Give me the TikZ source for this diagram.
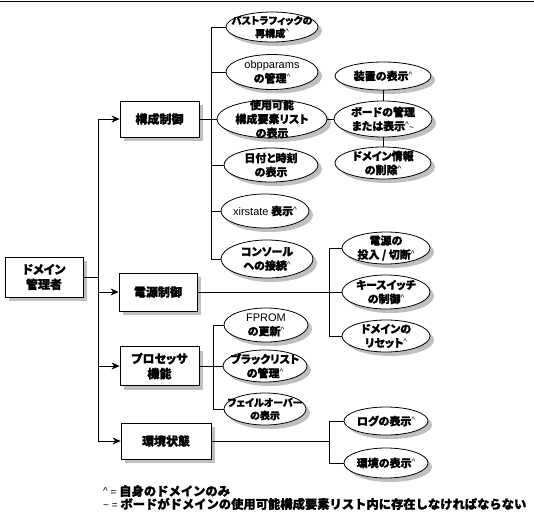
\documentclass[tikz,border=0pt]{standalone}
\usepackage{fontspec}
\newfontfamily\jpf{Noto Sans CJK JP}[RawFeature=+palt,BoldFeatures={FakeBold=1.2}]
\newfontfamily\jpl{Noto Sans CJK JP}[BoldFeatures={FakeBold=1.2}]
\newfontfamily\lsans{Liberation Sans}
\usetikzlibrary{shapes.geometric,shadows,arrows.meta}
\newcommand{\crt}{\raisebox{2.5pt}{\lsans\mdseries\fontsize{8}{8}\selectfont\textasciicircum}}
\newcommand{\tld}{{\lsans\mdseries\fontsize{9}{9}\selectfont\textasciitilde}}
\newcommand{\lat}[1]{{\lsans\mdseries #1}}
\tikzset{
 ln/.style={line width=0.8pt},
 arr/.style={ln,-{Stealth[length=8pt,width=7pt,inset=2.5pt]}},
 shd/.style={drop shadow={shadow xshift=4pt,shadow yshift=-4pt,fill=black!25,opacity=1}},
 bx/.style={draw,ln,fill=white,shd,inner sep=0pt,align=center,font=\jpf\bfseries\fontsize{12}{15}\selectfont},
 el/.style={ellipse,draw,ln,fill=white,shd,inner sep=0pt},
 et/.style={inner sep=0pt,align=center,font=\jpf\bfseries\fontsize{11}{14}\selectfont},
 etsmall/.style={font=\jpf\bfseries\fontsize{10}{13}\selectfont},
 lg/.style={inner sep=0pt,anchor=west,font=\jpl\bfseries\fontsize{12.3}{13}\selectfont},
}
\newcommand{\ellnode}[7][]{%
  \node[el,minimum width=#5pt,minimum height=#6pt] (#2) at (#3,#4) {};
  \node[et,#1] (#2t) at (#2) {#7};}
\begin{document}
\begin{tikzpicture}[x=1pt,y=-1pt]
\useasboundingbox (0,0) rectangle (534,514);
\coordinate (tl) at (0,1);
\coordinate (tre) at (534,1);
\draw[ln] (tl) -- (tre);

% boxes
\node[bx,minimum width=78pt,minimum height=40pt] (mgr) at (44,277) {ドメイン\\管理者};
\node[bx,minimum width=79pt,minimum height=36pt] (ks) at (159.5,119) {構成制御};
\node[bx,minimum width=78pt,minimum height=38pt] (dg) at (158,292) {電源制御};
\node[bx,minimum width=79pt,minimum height=39pt] (pr) at (159.5,366) {プロセッサ\\機能};
\node[bx,minimum width=90pt,minimum height=36pt] (kj) at (166,441) {環境状態};

% column 1
\ellnode[etsmall]{c1}{272}{27}{92}{30}{パストラフィックの\\再構成\crt}
\ellnode{c2}{272}{72}{92}{35}{\lat{obpparams}\\の管理\crt}
\ellnode{c3}{272}{119}{110}{38}{使用可能\\構成要素リスト\\の表示}
\ellnode{c4}{271}{165}{94}{34}{日付と時刻\\の表示}
\ellnode{c5}{265}{211}{88}{34}{\lat{xirstate} 表示\crt}
\ellnode{c6}{267}{259}{92}{38}{コンソール\\への接続\crt}

% column 2
\ellnode{d1}{383}{76}{96}{28}{装置の表示\crt}
\ellnode{d2}{383}{119}{98}{36}{ボードの管理\\または表示\crt\tld}
\ellnode{d3}{383}{163}{96}{32}{ドメイン情報\\の削除\crt}

% power
\ellnode{p1}{386}{248}{88}{32}{電源の\\投入 / 切断\crt}
\ellnode{p2}{386}{292}{88}{34}{キースイッチ\\の制御\crt}
\ellnode{p3}{386}{336}{88}{32}{ドメインの\\リセット\crt}

% processor
\ellnode{q1}{266}{325}{84}{34}{\lat{FPROM}\\の更新\crt}
\ellnode{q2}{265}{366}{84}{32}{ブラックリスト\\の管理\crt}
\ellnode[etsmall]{q3}{265}{409}{82}{32}{フェイルオーバー\\の表示}

% environment
\ellnode{r1}{386}{421}{84}{28}{ログの表示\crt}
\ellnode{r2}{386}{463}{84}{30}{環境の表示\crt}

% trunk
\coordinate (tr) at (98,277);
\draw[ln] (mgr.east) -- (tr);
\draw[ln] (tr |- ks) -- (tr |- kj);
\draw[arr] (tr |- ks) -- (ks.west);
\draw[arr] (tr |- dg) -- (dg.west);
\draw[arr] (tr |- pr) -- (pr.west);
\draw[arr] (tr |- kj) -- (kj.west);

% branch 1
\coordinate (b1) at (211,0);
\draw[ln] (ks.east) -- (b1 |- ks);
\draw[ln] (c1.west) -- (b1 |- c1) -- (b1 |- c6) -- (c6.west);
\foreach \n in {c2,c3,c4,c5} \draw[ln] (b1 |- \n) -- (\n.west);
\draw[ln] (c3.east) -- (d2.west);
\draw[ln] (d1.south) -- (d2.north);
\draw[ln] (d2.south) -- (d3.north);

% branch power
\coordinate (b3) at (329,0);
\draw[ln] (dg.east) -- (p2.west);
\draw[ln] (p1.west) -- (b3 |- p1) -- (b3 |- p3) -- (p3.west);

% branch processor
\coordinate (b2) at (213,0);
\draw[ln] (pr.east) -- (b2 |- pr);
\draw[ln] (q1.west) -- (b2 |- q1) -- (b2 |- q3) -- (q3.west);
\draw[ln] (b2 |- q2) -- (q2.west);

% branch environment
\coordinate (b4) at (329,0);
\draw[ln] (kj.east) -- (b4 |- kj);
\draw[ln] (r1.west) -- (b4 |- r1) -- (b4 |- r2) -- (r2.west);

% legend
\node[lg] (lg1) at (103,491) {{\lsans\mdseries\fontsize{10}{10}\selectfont\raisebox{1.5pt}{\textasciicircum}{} = }自身のドメインのみ};
\node[lg] (lg2) at (103,504) {{\lsans\mdseries\fontsize{10}{10}\selectfont\textasciitilde{} = }ボードがドメインの使用可能構成要素リスト内に存在しなければならない};
\end{tikzpicture}
\end{document}
